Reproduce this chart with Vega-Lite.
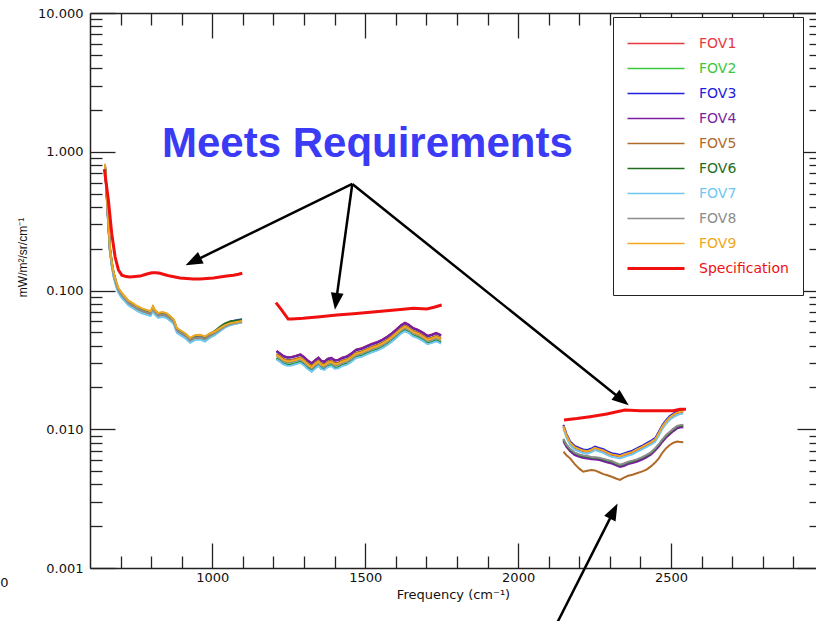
{
  "$schema": "https://vega.github.io/schema/vega-lite/v6.json",
  "width": 726,
  "height": 555,
  "autosize": {"type": "none"},
  "padding": {"left": 90, "top": 13, "right": 0, "bottom": 53},
  "background": "white",
  "config": {
    "view": {"stroke": null},
    "axis": {"grid": false, "domainColor": "#222222", "tickColor": "#222222", "labelColor": "#111111", "titleColor": "#111111", "labelFont": "DejaVu Sans", "titleFont": "DejaVu Sans", "domainWidth": 1.5, "tickWidth": 1.3, "labelFontSize": 13}
  },
  "datasets": {
    "fov": [
      {"band":1,"f":649,"FOV1":0.79,"FOV2":0.78,"FOV3":0.80,"FOV4":0.79,"FOV5":0.77,"FOV6":0.80,"FOV7":0.76,"FOV8":0.78,"FOV9":0.82},
      {"band":1,"f":654,"FOV1":0.52,"FOV2":0.51,"FOV3":0.53,"FOV4":0.52,"FOV5":0.51,"FOV6":0.53,"FOV7":0.49,"FOV8":0.51,"FOV9":0.54},
      {"band":1,"f":659,"FOV1":0.33,"FOV2":0.325,"FOV3":0.335,"FOV4":0.33,"FOV5":0.32,"FOV6":0.34,"FOV7":0.31,"FOV8":0.325,"FOV9":0.34},
      {"band":1,"f":665,"FOV1":0.200,"FOV2":0.197,"FOV3":0.203,"FOV4":0.199,"FOV5":0.195,"FOV6":0.205,"FOV7":0.190,"FOV8":0.198,"FOV9":0.206},
      {"band":1,"f":671,"FOV1":0.158,"FOV2":0.156,"FOV3":0.160,"FOV4":0.157,"FOV5":0.154,"FOV6":0.162,"FOV7":0.150,"FOV8":0.156,"FOV9":0.163},
      {"band":1,"f":677,"FOV1":0.133,"FOV2":0.130,"FOV3":0.134,"FOV4":0.131,"FOV5":0.129,"FOV6":0.135,"FOV7":0.125,"FOV8":0.131,"FOV9":0.136},
      {"band":1,"f":685,"FOV1":0.112,"FOV2":0.111,"FOV3":0.115,"FOV4":0.113,"FOV5":0.110,"FOV6":0.116,"FOV7":0.107,"FOV8":0.112,"FOV9":0.117},
      {"band":1,"f":693,"FOV1":0.101,"FOV2":0.100,"FOV3":0.102,"FOV4":0.101,"FOV5":0.099,"FOV6":0.103,"FOV7":0.096,"FOV8":0.100,"FOV9":0.104},
      {"band":1,"f":703,"FOV1":0.0945,"FOV2":0.093,"FOV3":0.095,"FOV4":0.094,"FOV5":0.092,"FOV6":0.096,"FOV7":0.089,"FOV8":0.093,"FOV9":0.097},
      {"band":1,"f":714,"FOV1":0.0875,"FOV2":0.087,"FOV3":0.089,"FOV4":0.088,"FOV5":0.086,"FOV6":0.090,"FOV7":0.0835,"FOV8":0.087,"FOV9":0.0905},
      {"band":1,"f":726,"FOV1":0.0825,"FOV2":0.081,"FOV3":0.083,"FOV4":0.082,"FOV5":0.080,"FOV6":0.0835,"FOV7":0.078,"FOV8":0.081,"FOV9":0.0845},
      {"band":1,"f":740,"FOV1":0.0780,"FOV2":0.0778,"FOV3":0.0795,"FOV4":0.0785,"FOV5":0.0770,"FOV6":0.0800,"FOV7":0.0745,"FOV8":0.0778,"FOV9":0.0810},
      {"band":1,"f":755,"FOV1":0.0750,"FOV2":0.0740,"FOV3":0.0756,"FOV4":0.0748,"FOV5":0.0733,"FOV6":0.0763,"FOV7":0.0710,"FOV8":0.0741,"FOV9":0.0770},
      {"band":1,"f":770,"FOV1":0.0720,"FOV2":0.0715,"FOV3":0.0730,"FOV4":0.0722,"FOV5":0.0708,"FOV6":0.0736,"FOV7":0.0686,"FOV8":0.0715,"FOV9":0.0744},
      {"band":1,"f":785,"FOV1":0.0705,"FOV2":0.0696,"FOV3":0.0710,"FOV4":0.0703,"FOV5":0.0689,"FOV6":0.0717,"FOV7":0.0668,"FOV8":0.0696,"FOV9":0.0724},
      {"band":1,"f":798,"FOV1":0.0690,"FOV2":0.0681,"FOV3":0.0695,"FOV4":0.0688,"FOV5":0.0674,"FOV6":0.0702,"FOV7":0.0654,"FOV8":0.0681,"FOV9":0.0709},
      {"band":1,"f":806,"FOV1":0.0745,"FOV2":0.0740,"FOV3":0.0756,"FOV4":0.0748,"FOV5":0.0733,"FOV6":0.0763,"FOV7":0.0711,"FOV8":0.0741,"FOV9":0.0770},
      {"band":1,"f":812,"FOV1":0.0705,"FOV2":0.0698,"FOV3":0.0712,"FOV4":0.0705,"FOV5":0.0691,"FOV6":0.0719,"FOV7":0.0670,"FOV8":0.0698,"FOV9":0.0726},
      {"band":1,"f":823,"FOV1":0.0670,"FOV2":0.0661,"FOV3":0.0675,"FOV4":0.0668,"FOV5":0.0655,"FOV6":0.0681,"FOV7":0.0635,"FOV8":0.0661,"FOV9":0.0688},
      {"band":1,"f":837,"FOV1":0.0682,"FOV2":0.0673,"FOV3":0.0687,"FOV4":0.0680,"FOV5":0.0666,"FOV6":0.0694,"FOV7":0.0646,"FOV8":0.0673,"FOV9":0.0700},
      {"band":1,"f":851,"FOV1":0.0664,"FOV2":0.0657,"FOV3":0.0671,"FOV4":0.0664,"FOV5":0.0651,"FOV6":0.0677,"FOV7":0.0631,"FOV8":0.0657,"FOV9":0.0684},
      {"band":1,"f":864,"FOV1":0.0632,"FOV2":0.0624,"FOV3":0.0636,"FOV4":0.0630,"FOV5":0.0617,"FOV6":0.0643,"FOV7":0.0599,"FOV8":0.0624,"FOV9":0.0649},
      {"band":1,"f":874,"FOV1":0.0598,"FOV2":0.0594,"FOV3":0.0606,"FOV4":0.0600,"FOV5":0.0588,"FOV6":0.0612,"FOV7":0.0570,"FOV8":0.0594,"FOV9":0.0618},
      {"band":1,"f":884,"FOV1":0.0524,"FOV2":0.0517,"FOV3":0.0527,"FOV4":0.0522,"FOV5":0.0512,"FOV6":0.0532,"FOV7":0.0496,"FOV8":0.0517,"FOV9":0.0538},
      {"band":1,"f":898,"FOV1":0.0498,"FOV2":0.0493,"FOV3":0.0503,"FOV4":0.0498,"FOV5":0.0488,"FOV6":0.0508,"FOV7":0.0473,"FOV8":0.0493,"FOV9":0.0513},
      {"band":1,"f":912,"FOV1":0.0477,"FOV2":0.0471,"FOV3":0.0481,"FOV4":0.0476,"FOV5":0.0466,"FOV6":0.0486,"FOV7":0.0452,"FOV8":0.0471,"FOV9":0.0490},
      {"band":1,"f":927,"FOV1":0.0443,"FOV2":0.0438,"FOV3":0.0446,"FOV4":0.0442,"FOV5":0.0433,"FOV6":0.0451,"FOV7":0.0420,"FOV8":0.0438,"FOV9":0.0455},
      {"band":1,"f":943,"FOV1":0.0462,"FOV2":0.0457,"FOV3":0.0467,"FOV4":0.0462,"FOV5":0.0453,"FOV6":0.0471,"FOV7":0.0439,"FOV8":0.0457,"FOV9":0.0476},
      {"band":1,"f":960,"FOV1":0.0467,"FOV2":0.0461,"FOV3":0.0471,"FOV4":0.0466,"FOV5":0.0457,"FOV6":0.0475,"FOV7":0.0443,"FOV8":0.0461,"FOV9":0.0480},
      {"band":1,"f":976,"FOV1":0.0452,"FOV2":0.0447,"FOV3":0.0457,"FOV4":0.0452,"FOV5":0.0443,"FOV6":0.0461,"FOV7":0.0429,"FOV8":0.0447,"FOV9":0.0466},
      {"band":1,"f":992,"FOV1":0.0479,"FOV2":0.0473,"FOV3":0.0483,"FOV4":0.0478,"FOV5":0.0468,"FOV6":0.0490,"FOV7":0.0456,"FOV8":0.0473,"FOV9":0.0490},
      {"band":1,"f":1008,"FOV1":0.0497,"FOV2":0.0491,"FOV3":0.0503,"FOV4":0.0496,"FOV5":0.0486,"FOV6":0.0510,"FOV7":0.0476,"FOV8":0.0491,"FOV9":0.0506},
      {"band":1,"f":1024,"FOV1":0.0526,"FOV2":0.0520,"FOV3":0.0535,"FOV4":0.0525,"FOV5":0.0515,"FOV6":0.0545,"FOV7":0.0506,"FOV8":0.0520,"FOV9":0.0533},
      {"band":1,"f":1040,"FOV1":0.0556,"FOV2":0.0549,"FOV3":0.0566,"FOV4":0.0555,"FOV5":0.0544,"FOV6":0.0577,"FOV7":0.0537,"FOV8":0.0550,"FOV9":0.0561},
      {"band":1,"f":1058,"FOV1":0.0580,"FOV2":0.0572,"FOV3":0.0595,"FOV4":0.0578,"FOV5":0.0567,"FOV6":0.0598,"FOV7":0.0562,"FOV8":0.0573,"FOV9":0.0582},
      {"band":1,"f":1075,"FOV1":0.0590,"FOV2":0.0582,"FOV3":0.0608,"FOV4":0.0588,"FOV5":0.0576,"FOV6":0.0605,"FOV7":0.0575,"FOV8":0.0583,"FOV9":0.0590},
      {"band":1,"f":1097,"FOV1":0.0604,"FOV2":0.0596,"FOV3":0.0622,"FOV4":0.0602,"FOV5":0.0590,"FOV6":0.0615,"FOV7":0.0590,"FOV8":0.0597,"FOV9":0.0603},

      {"band":2,"f":1210,"FOV1":0.0367,"FOV2":0.0326,"FOV3":0.0364,"FOV4":0.0366,"FOV5":0.0350,"FOV6":0.0322,"FOV7":0.0319,"FOV8":0.0336,"FOV9":0.0343},
      {"band":2,"f":1221,"FOV1":0.0353,"FOV2":0.0314,"FOV3":0.0350,"FOV4":0.0352,"FOV5":0.0337,"FOV6":0.0310,"FOV7":0.0307,"FOV8":0.0323,"FOV9":0.0330},
      {"band":2,"f":1232,"FOV1":0.0338,"FOV2":0.0300,"FOV3":0.0335,"FOV4":0.0337,"FOV5":0.0322,"FOV6":0.0297,"FOV7":0.0294,"FOV8":0.0310,"FOV9":0.0316},
      {"band":2,"f":1245,"FOV1":0.0331,"FOV2":0.0294,"FOV3":0.0328,"FOV4":0.0330,"FOV5":0.0315,"FOV6":0.0290,"FOV7":0.0287,"FOV8":0.0303,"FOV9":0.0309},
      {"band":2,"f":1258,"FOV1":0.0332,"FOV2":0.0295,"FOV3":0.0329,"FOV4":0.0331,"FOV5":0.0316,"FOV6":0.0291,"FOV7":0.0288,"FOV8":0.0304,"FOV9":0.0310},
      {"band":2,"f":1272,"FOV1":0.0338,"FOV2":0.0300,"FOV3":0.0335,"FOV4":0.0337,"FOV5":0.0322,"FOV6":0.0297,"FOV7":0.0294,"FOV8":0.0310,"FOV9":0.0316},
      {"band":2,"f":1288,"FOV1":0.0347,"FOV2":0.0308,"FOV3":0.0343,"FOV4":0.0346,"FOV5":0.0330,"FOV6":0.0305,"FOV7":0.0301,"FOV8":0.0318,"FOV9":0.0324},
      {"band":2,"f":1300,"FOV1":0.0332,"FOV2":0.0295,"FOV3":0.0329,"FOV4":0.0331,"FOV5":0.0316,"FOV6":0.0291,"FOV7":0.0288,"FOV8":0.0304,"FOV9":0.0310},
      {"band":2,"f":1311,"FOV1":0.0315,"FOV2":0.0279,"FOV3":0.0312,"FOV4":0.0314,"FOV5":0.0300,"FOV6":0.0276,"FOV7":0.0273,"FOV8":0.0288,"FOV9":0.0294},
      {"band":2,"f":1325,"FOV1":0.0300,"FOV2":0.0266,"FOV3":0.0297,"FOV4":0.0299,"FOV5":0.0286,"FOV6":0.0263,"FOV7":0.0260,"FOV8":0.0274,"FOV9":0.0280},
      {"band":2,"f":1337,"FOV1":0.0317,"FOV2":0.0281,"FOV3":0.0314,"FOV4":0.0316,"FOV5":0.0302,"FOV6":0.0278,"FOV7":0.0275,"FOV8":0.0290,"FOV9":0.0296},
      {"band":2,"f":1347,"FOV1":0.0328,"FOV2":0.0292,"FOV3":0.0325,"FOV4":0.0328,"FOV5":0.0313,"FOV6":0.0289,"FOV7":0.0286,"FOV8":0.0301,"FOV9":0.0307},
      {"band":2,"f":1356,"FOV1":0.0312,"FOV2":0.0277,"FOV3":0.0310,"FOV4":0.0312,"FOV5":0.0298,"FOV6":0.0274,"FOV7":0.0272,"FOV8":0.0286,"FOV9":0.0292},
      {"band":2,"f":1366,"FOV1":0.0308,"FOV2":0.0274,"FOV3":0.0305,"FOV4":0.0307,"FOV5":0.0294,"FOV6":0.0271,"FOV7":0.0268,"FOV8":0.0282,"FOV9":0.0288},
      {"band":2,"f":1378,"FOV1":0.0323,"FOV2":0.0287,"FOV3":0.0320,"FOV4":0.0322,"FOV5":0.0308,"FOV6":0.0284,"FOV7":0.0281,"FOV8":0.0296,"FOV9":0.0302},
      {"band":2,"f":1389,"FOV1":0.0327,"FOV2":0.0291,"FOV3":0.0324,"FOV4":0.0327,"FOV5":0.0312,"FOV6":0.0288,"FOV7":0.0285,"FOV8":0.0300,"FOV9":0.0306},
      {"band":2,"f":1401,"FOV1":0.0315,"FOV2":0.0279,"FOV3":0.0312,"FOV4":0.0314,"FOV5":0.0300,"FOV6":0.0276,"FOV7":0.0273,"FOV8":0.0288,"FOV9":0.0294},
      {"band":2,"f":1412,"FOV1":0.0317,"FOV2":0.0281,"FOV3":0.0314,"FOV4":0.0316,"FOV5":0.0302,"FOV6":0.0278,"FOV7":0.0275,"FOV8":0.0290,"FOV9":0.0296},
      {"band":2,"f":1425,"FOV1":0.0328,"FOV2":0.0292,"FOV3":0.0325,"FOV4":0.0328,"FOV5":0.0313,"FOV6":0.0289,"FOV7":0.0286,"FOV8":0.0301,"FOV9":0.0307},
      {"band":2,"f":1440,"FOV1":0.0336,"FOV2":0.0298,"FOV3":0.0333,"FOV4":0.0335,"FOV5":0.0320,"FOV6":0.0295,"FOV7":0.0292,"FOV8":0.0308,"FOV9":0.0314},
      {"band":2,"f":1455,"FOV1":0.0353,"FOV2":0.0314,"FOV3":0.0350,"FOV4":0.0352,"FOV5":0.0337,"FOV6":0.0310,"FOV7":0.0307,"FOV8":0.0323,"FOV9":0.0330},
      {"band":2,"f":1470,"FOV1":0.0375,"FOV2":0.0333,"FOV3":0.0371,"FOV4":0.0374,"FOV5":0.0357,"FOV6":0.0329,"FOV7":0.0326,"FOV8":0.0343,"FOV9":0.0350},
      {"band":2,"f":1488,"FOV1":0.0383,"FOV2":0.0340,"FOV3":0.0379,"FOV4":0.0382,"FOV5":0.0365,"FOV6":0.0337,"FOV7":0.0333,"FOV8":0.0351,"FOV9":0.0358},
      {"band":2,"f":1505,"FOV1":0.0398,"FOV2":0.0353,"FOV3":0.0394,"FOV4":0.0397,"FOV5":0.0379,"FOV6":0.0350,"FOV7":0.0346,"FOV8":0.0365,"FOV9":0.0372},
      {"band":2,"f":1522,"FOV1":0.0413,"FOV2":0.0367,"FOV3":0.0409,"FOV4":0.0412,"FOV5":0.0394,"FOV6":0.0363,"FOV7":0.0359,"FOV8":0.0378,"FOV9":0.0386},
      {"band":2,"f":1540,"FOV1":0.0426,"FOV2":0.0378,"FOV3":0.0422,"FOV4":0.0425,"FOV5":0.0406,"FOV6":0.0374,"FOV7":0.0370,"FOV8":0.0390,"FOV9":0.0398},
      {"band":2,"f":1556,"FOV1":0.0443,"FOV2":0.0393,"FOV3":0.0439,"FOV4":0.0442,"FOV5":0.0422,"FOV6":0.0389,"FOV7":0.0385,"FOV8":0.0406,"FOV9":0.0414},
      {"band":2,"f":1572,"FOV1":0.0465,"FOV2":0.0413,"FOV3":0.0461,"FOV4":0.0464,"FOV5":0.0444,"FOV6":0.0409,"FOV7":0.0405,"FOV8":0.0426,"FOV9":0.0435},
      {"band":2,"f":1588,"FOV1":0.0494,"FOV2":0.0439,"FOV3":0.0490,"FOV4":0.0493,"FOV5":0.0471,"FOV6":0.0434,"FOV7":0.0430,"FOV8":0.0453,"FOV9":0.0462},
      {"band":2,"f":1603,"FOV1":0.0528,"FOV2":0.0468,"FOV3":0.0523,"FOV4":0.0526,"FOV5":0.0503,"FOV6":0.0463,"FOV7":0.0458,"FOV8":0.0483,"FOV9":0.0493},
      {"band":2,"f":1617,"FOV1":0.0563,"FOV2":0.0500,"FOV3":0.0558,"FOV4":0.0561,"FOV5":0.0537,"FOV6":0.0494,"FOV7":0.0489,"FOV8":0.0515,"FOV9":0.0526},
      {"band":2,"f":1630,"FOV1":0.0586,"FOV2":0.0521,"FOV3":0.0581,"FOV4":0.0585,"FOV5":0.0559,"FOV6":0.0515,"FOV7":0.0510,"FOV8":0.0537,"FOV9":0.0548},
      {"band":2,"f":1642,"FOV1":0.0569,"FOV2":0.0505,"FOV3":0.0564,"FOV4":0.0568,"FOV5":0.0543,"FOV6":0.0500,"FOV7":0.0495,"FOV8":0.0521,"FOV9":0.0532},
      {"band":2,"f":1656,"FOV1":0.0538,"FOV2":0.0478,"FOV3":0.0533,"FOV4":0.0537,"FOV5":0.0513,"FOV6":0.0473,"FOV7":0.0468,"FOV8":0.0493,"FOV9":0.0503},
      {"band":2,"f":1672,"FOV1":0.0522,"FOV2":0.0464,"FOV3":0.0517,"FOV4":0.0521,"FOV5":0.0498,"FOV6":0.0459,"FOV7":0.0454,"FOV8":0.0478,"FOV9":0.0488},
      {"band":2,"f":1688,"FOV1":0.0499,"FOV2":0.0443,"FOV3":0.0494,"FOV4":0.0497,"FOV5":0.0475,"FOV6":0.0438,"FOV7":0.0433,"FOV8":0.0457,"FOV9":0.0466},
      {"band":2,"f":1704,"FOV1":0.0472,"FOV2":0.0419,"FOV3":0.0467,"FOV4":0.0471,"FOV5":0.0450,"FOV6":0.0415,"FOV7":0.0410,"FOV8":0.0432,"FOV9":0.0441},
      {"band":2,"f":1718,"FOV1":0.0482,"FOV2":0.0428,"FOV3":0.0477,"FOV4":0.0480,"FOV5":0.0459,"FOV6":0.0423,"FOV7":0.0419,"FOV8":0.0441,"FOV9":0.0450},
      {"band":2,"f":1732,"FOV1":0.0495,"FOV2":0.0440,"FOV3":0.0491,"FOV4":0.0494,"FOV5":0.0472,"FOV6":0.0435,"FOV7":0.0431,"FOV8":0.0454,"FOV9":0.0463},
      {"band":2,"f":1748,"FOV1":0.0477,"FOV2":0.0424,"FOV3":0.0473,"FOV4":0.0476,"FOV5":0.0455,"FOV6":0.0419,"FOV7":0.0415,"FOV8":0.0437,"FOV9":0.0446},

      {"band":3,"f":2148,"FOV1":0.01043,"FOV2":0.00837,"FOV3":0.01074,"FOV4":0.00820,"FOV5":0.00689,"FOV6":0.00845,"FOV7":0.01012,"FOV8":0.00854,"FOV9":0.01053},
      {"band":3,"f":2158,"FOV1":0.00900,"FOV2":0.00760,"FOV3":0.00927,"FOV4":0.00745,"FOV5":0.00650,"FOV6":0.00768,"FOV7":0.00873,"FOV8":0.00775,"FOV9":0.00909},
      {"band":3,"f":2170,"FOV1":0.00792,"FOV2":0.00708,"FOV3":0.00816,"FOV4":0.00694,"FOV5":0.00617,"FOV6":0.00715,"FOV7":0.00768,"FOV8":0.00722,"FOV9":0.00800},
      {"band":3,"f":2185,"FOV1":0.00735,"FOV2":0.00665,"FOV3":0.00757,"FOV4":0.00652,"FOV5":0.00560,"FOV6":0.00672,"FOV7":0.00713,"FOV8":0.00678,"FOV9":0.00742},
      {"band":3,"f":2200,"FOV1":0.00712,"FOV2":0.00645,"FOV3":0.00733,"FOV4":0.00632,"FOV5":0.00520,"FOV6":0.00651,"FOV7":0.00691,"FOV8":0.00658,"FOV9":0.00719},
      {"band":3,"f":2213,"FOV1":0.00695,"FOV2":0.00634,"FOV3":0.00716,"FOV4":0.00621,"FOV5":0.00494,"FOV6":0.00640,"FOV7":0.00674,"FOV8":0.00647,"FOV9":0.00702},
      {"band":3,"f":2226,"FOV1":0.00688,"FOV2":0.00628,"FOV3":0.00709,"FOV4":0.00615,"FOV5":0.00502,"FOV6":0.00634,"FOV7":0.00667,"FOV8":0.00641,"FOV9":0.00695},
      {"band":3,"f":2240,"FOV1":0.00705,"FOV2":0.00620,"FOV3":0.00726,"FOV4":0.00608,"FOV5":0.00508,"FOV6":0.00626,"FOV7":0.00684,"FOV8":0.00632,"FOV9":0.00712},
      {"band":3,"f":2251,"FOV1":0.00729,"FOV2":0.00617,"FOV3":0.00751,"FOV4":0.00605,"FOV5":0.00505,"FOV6":0.00623,"FOV7":0.00707,"FOV8":0.00629,"FOV9":0.00736},
      {"band":3,"f":2265,"FOV1":0.00712,"FOV2":0.00612,"FOV3":0.00733,"FOV4":0.00600,"FOV5":0.00490,"FOV6":0.00618,"FOV7":0.00691,"FOV8":0.00624,"FOV9":0.00719},
      {"band":3,"f":2279,"FOV1":0.00697,"FOV2":0.00600,"FOV3":0.00718,"FOV4":0.00588,"FOV5":0.00475,"FOV6":0.00606,"FOV7":0.00676,"FOV8":0.00612,"FOV9":0.00704},
      {"band":3,"f":2292,"FOV1":0.00672,"FOV2":0.00588,"FOV3":0.00692,"FOV4":0.00576,"FOV5":0.00466,"FOV6":0.00594,"FOV7":0.00652,"FOV8":0.00600,"FOV9":0.00679},
      {"band":3,"f":2306,"FOV1":0.00652,"FOV2":0.00578,"FOV3":0.00672,"FOV4":0.00566,"FOV5":0.00455,"FOV6":0.00584,"FOV7":0.00632,"FOV8":0.00590,"FOV9":0.00659},
      {"band":3,"f":2320,"FOV1":0.00645,"FOV2":0.00560,"FOV3":0.00664,"FOV4":0.00549,"FOV5":0.00442,"FOV6":0.00566,"FOV7":0.00626,"FOV8":0.00571,"FOV9":0.00651},
      {"band":3,"f":2333,"FOV1":0.00634,"FOV2":0.00545,"FOV3":0.00653,"FOV4":0.00534,"FOV5":0.00431,"FOV6":0.00550,"FOV7":0.00615,"FOV8":0.00556,"FOV9":0.00640},
      {"band":3,"f":2346,"FOV1":0.00650,"FOV2":0.00555,"FOV3":0.00670,"FOV4":0.00544,"FOV5":0.00448,"FOV6":0.00561,"FOV7":0.00631,"FOV8":0.00566,"FOV9":0.00657},
      {"band":3,"f":2360,"FOV1":0.00666,"FOV2":0.00572,"FOV3":0.00686,"FOV4":0.00561,"FOV5":0.00462,"FOV6":0.00578,"FOV7":0.00646,"FOV8":0.00583,"FOV9":0.00673},
      {"band":3,"f":2374,"FOV1":0.00680,"FOV2":0.00582,"FOV3":0.00700,"FOV4":0.00570,"FOV5":0.00470,"FOV6":0.00588,"FOV7":0.00660,"FOV8":0.00594,"FOV9":0.00687},
      {"band":3,"f":2388,"FOV1":0.00708,"FOV2":0.00595,"FOV3":0.00729,"FOV4":0.00583,"FOV5":0.00482,"FOV6":0.00601,"FOV7":0.00687,"FOV8":0.00607,"FOV9":0.00715},
      {"band":3,"f":2404,"FOV1":0.00735,"FOV2":0.00615,"FOV3":0.00757,"FOV4":0.00603,"FOV5":0.00495,"FOV6":0.00621,"FOV7":0.00713,"FOV8":0.00627,"FOV9":0.00742},
      {"band":3,"f":2420,"FOV1":0.00770,"FOV2":0.00640,"FOV3":0.00793,"FOV4":0.00627,"FOV5":0.00512,"FOV6":0.00646,"FOV7":0.00747,"FOV8":0.00653,"FOV9":0.00778},
      {"band":3,"f":2434,"FOV1":0.00800,"FOV2":0.00668,"FOV3":0.00824,"FOV4":0.00655,"FOV5":0.00540,"FOV6":0.00675,"FOV7":0.00776,"FOV8":0.00681,"FOV9":0.00808},
      {"band":3,"f":2448,"FOV1":0.00837,"FOV2":0.00715,"FOV3":0.00862,"FOV4":0.00701,"FOV5":0.00575,"FOV6":0.00722,"FOV7":0.00812,"FOV8":0.00729,"FOV9":0.00845},
      {"band":3,"f":2460,"FOV1":0.00930,"FOV2":0.00765,"FOV3":0.00958,"FOV4":0.00750,"FOV5":0.00617,"FOV6":0.00773,"FOV7":0.00902,"FOV8":0.00780,"FOV9":0.00939},
      {"band":3,"f":2472,"FOV1":0.01040,"FOV2":0.00830,"FOV3":0.01071,"FOV4":0.00813,"FOV5":0.00680,"FOV6":0.00838,"FOV7":0.01009,"FOV8":0.00847,"FOV9":0.01050},
      {"band":3,"f":2484,"FOV1":0.01130,"FOV2":0.00890,"FOV3":0.01164,"FOV4":0.00872,"FOV5":0.00730,"FOV6":0.00899,"FOV7":0.01096,"FOV8":0.00908,"FOV9":0.01141},
      {"band":3,"f":2496,"FOV1":0.01210,"FOV2":0.00940,"FOV3":0.01246,"FOV4":0.00921,"FOV5":0.00770,"FOV6":0.00949,"FOV7":0.01174,"FOV8":0.00959,"FOV9":0.01222},
      {"band":3,"f":2508,"FOV1":0.01260,"FOV2":0.00990,"FOV3":0.01298,"FOV4":0.00970,"FOV5":0.00800,"FOV6":0.01000,"FOV7":0.01222,"FOV8":0.01010,"FOV9":0.01273},
      {"band":3,"f":2520,"FOV1":0.01305,"FOV2":0.01035,"FOV3":0.01344,"FOV4":0.01014,"FOV5":0.00815,"FOV6":0.01045,"FOV7":0.01266,"FOV8":0.01056,"FOV9":0.01318},
      {"band":3,"f":2530,"FOV1":0.01325,"FOV2":0.01050,"FOV3":0.01365,"FOV4":0.01029,"FOV5":0.00810,"FOV6":0.01061,"FOV7":0.01285,"FOV8":0.01071,"FOV9":0.01338},
      {"band":3,"f":2540,"FOV1":0.01340,"FOV2":0.01055,"FOV3":0.01380,"FOV4":0.01034,"FOV5":0.00805,"FOV6":0.01066,"FOV7":0.01300,"FOV8":0.01076,"FOV9":0.01353}
    ],
    "spec": [
      {"band":1,"f":647,"v":0.75},{"band":1,"f":660,"v":0.449},{"band":1,"f":671,"v":0.258},{"band":1,"f":682,"v":0.175},{"band":1,"f":693,"v":0.1406},{"band":1,"f":704,"v":0.129},{"band":1,"f":718,"v":0.126},{"band":1,"f":731,"v":0.125},{"band":1,"f":748,"v":0.126},{"band":1,"f":764,"v":0.127},{"band":1,"f":783,"v":0.131},{"band":1,"f":802,"v":0.134},{"band":1,"f":816,"v":0.134},{"band":1,"f":829,"v":0.133},{"band":1,"f":845,"v":0.130},{"band":1,"f":862,"v":0.127},{"band":1,"f":878,"v":0.125},{"band":1,"f":894,"v":0.123},{"band":1,"f":916,"v":0.122},{"band":1,"f":938,"v":0.121},{"band":1,"f":960,"v":0.121},{"band":1,"f":982,"v":0.122},{"band":1,"f":1004,"v":0.123},{"band":1,"f":1025,"v":0.125},{"band":1,"f":1047,"v":0.127},{"band":1,"f":1069,"v":0.129},{"band":1,"f":1085,"v":0.131},{"band":1,"f":1098,"v":0.133},
      {"band":2,"f":1208,"v":0.0817},{"band":2,"f":1227,"v":0.0723},{"band":2,"f":1248,"v":0.0623},{"band":2,"f":1260,"v":0.0622},{"band":2,"f":1297,"v":0.0630},{"band":2,"f":1352,"v":0.0648},{"band":2,"f":1407,"v":0.0666},{"band":2,"f":1462,"v":0.0681},{"band":2,"f":1516,"v":0.0697},{"band":2,"f":1570,"v":0.0714},{"band":2,"f":1624,"v":0.0732},{"band":2,"f":1657,"v":0.0744},{"band":2,"f":1701,"v":0.0737},{"band":2,"f":1725,"v":0.0758},{"band":2,"f":1750,"v":0.0786},
      {"band":3,"f":2150,"v":0.01166},{"band":3,"f":2192,"v":0.01195},{"band":3,"f":2235,"v":0.01232},{"band":3,"f":2290,"v":0.01288},{"band":3,"f":2349,"v":0.01376},{"band":3,"f":2399,"v":0.01361},{"band":3,"f":2453,"v":0.01361},{"band":3,"f":2507,"v":0.01361},{"band":3,"f":2529,"v":0.01392},{"band":3,"f":2549,"v":0.01392}
    ],
    "anchor": [{"f": 1000, "v": 0.01}]
  },
  "layer": [
    {
      "data": {"name": "anchor"},
      "mark": {"type": "point", "opacity": 0},
      "encoding": {
        "x": {"field": "f", "type": "quantitative", "scale": {"domain": [600, 2974], "nice": false, "zero": false},
          "axis": {"orient": "bottom", "values": [1000, 1500, 2000, 2500], "format": "d", "ticks": false, "domain": true, "labelPadding": 3, "labelFlush": false, "labelOverlap": false, "labelBound": false, "title": "Frequency (cm⁻¹)", "titleFontWeight": "normal", "titleFontSize": 13, "titlePadding": 4}},
        "y": {"field": "v", "type": "quantitative", "scale": {"type": "log", "domain": [0.001, 10], "nice": false},
          "axis": {"orient": "left", "values": [0.001, 0.01, 0.1, 1, 10], "format": ".3f", "ticks": false, "domain": true, "labelPadding": 7, "labelFlush": false, "labelOverlap": false, "title": "mW/m²/sr/cm⁻¹", "titleFont": "Liberation Sans", "titleFontSize": 12, "titleFontWeight": "normal", "titleX": -68, "titleY": 244, "titleAngle": -90, "titleAlign": "center", "titleBaseline": "middle"}}
      }
    },
    {
      "data": {"name": "anchor"},
      "mark": {"type": "point", "opacity": 0},
      "encoding": {
        "x": {"field": "f", "type": "quantitative", "scale": {"domain": [600, 2974], "nice": false, "zero": false},
          "axis": {"orient": "bottom", "values": [1000, 1500, 2000, 2500], "tickSize": -25, "labels": false, "domain": false, "title": null}},
        "y": {"field": "v", "type": "quantitative", "scale": {"type": "log", "domain": [0.001, 10], "nice": false},
          "axis": {"orient": "left", "values": [0.001, 0.01, 0.1, 1, 10], "tickSize": -25, "labels": false, "domain": false, "title": null}}
      }
    },
    {
      "data": {"name": "anchor"},
      "mark": {"type": "point", "opacity": 0},
      "encoding": {
        "x": {"field": "f", "type": "quantitative", "scale": {"domain": [600, 2974], "nice": false, "zero": false},
          "axis": {"orient": "bottom", "values": [700, 800, 900, 1100, 1200, 1300, 1400, 1600, 1700, 1800, 1900, 2100, 2200, 2300, 2400, 2600, 2700, 2800, 2900], "tickSize": -12, "labels": false, "domain": false, "title": null}},
        "y": {"field": "v", "type": "quantitative", "scale": {"type": "log", "domain": [0.001, 10], "nice": false},
          "axis": {"orient": "left", "values": [0.002, 0.003, 0.004, 0.005, 0.006, 0.007, 0.008, 0.009, 0.02, 0.03, 0.04, 0.05, 0.06, 0.07, 0.08, 0.09, 0.2, 0.3, 0.4, 0.5, 0.6, 0.7, 0.8, 0.9, 2, 3, 4, 5, 6, 7, 8, 9], "tickSize": -12, "labels": false, "domain": false, "title": null}}
      }
    },
    {
      "data": {"name": "anchor"},
      "mark": {"type": "point", "opacity": 0},
      "encoding": {
        "x": {"field": "f", "type": "quantitative", "scale": {"domain": [600, 2974], "nice": false, "zero": false},
          "axis": {"orient": "top", "values": [1000, 1500, 2000, 2500], "tickSize": -25, "labels": false, "domain": true, "title": null}},
        "y": {"field": "v", "type": "quantitative", "scale": {"type": "log", "domain": [0.001, 10], "nice": false},
          "axis": {"orient": "right", "values": [0.001, 0.01, 0.1, 1, 10], "tickSize": -19, "labels": false, "domain": false, "title": null}}
      }
    },
    {
      "data": {"name": "anchor"},
      "mark": {"type": "point", "opacity": 0},
      "encoding": {
        "x": {"field": "f", "type": "quantitative", "scale": {"domain": [600, 2974], "nice": false, "zero": false},
          "axis": {"orient": "top", "values": [700, 800, 900, 1100, 1200, 1300, 1400, 1600, 1700, 1800, 1900, 2100, 2200, 2300, 2400, 2600, 2700, 2800, 2900], "tickSize": -12, "labels": false, "domain": false, "title": null}},
        "y": {"field": "v", "type": "quantitative", "scale": {"type": "log", "domain": [0.001, 10], "nice": false},
          "axis": {"orient": "right", "values": [0.002, 0.003, 0.004, 0.005, 0.006, 0.007, 0.008, 0.009, 0.02, 0.03, 0.04, 0.05, 0.06, 0.07, 0.08, 0.09, 0.2, 0.3, 0.4, 0.5, 0.6, 0.7, 0.8, 0.9, 2, 3, 4, 5, 6, 7, 8, 9], "tickSize": -7, "labels": false, "domain": false, "title": null}}
      }
    },
    {
      "data": {"name": "fov"},
      "transform": [{"fold": ["FOV1", "FOV2", "FOV3", "FOV4", "FOV5", "FOV6", "FOV7", "FOV8", "FOV9"], "as": ["series", "value"]}],
      "mark": {"type": "line", "strokeWidth": 2},
      "encoding": {
        "x": {"field": "f", "type": "quantitative", "axis": null},
        "y": {"field": "value", "type": "quantitative", "axis": null},
        "detail": {"field": "band", "type": "nominal"},
        "color": {"field": "series", "type": "nominal",
          "scale": {"domain": ["FOV1", "FOV2", "FOV3", "FOV4", "FOV5", "FOV6", "FOV7", "FOV8", "FOV9", "Specification"],
                    "range": ["#e8383d", "#3cc83c", "#2020e0", "#7a1fa0", "#b06a28", "#1e6e1e", "#6ec8f0", "#8c8c8c", "#f0a820", "#f01010"]},
          "legend": {"title": null, "orient": "none", "legendX": 523, "legendY": 4, "direction": "vertical", "symbolType": "stroke", "symbolSize": 3249, "symbolStrokeWidth": 1.5, "symbolOffset": 22, "clipHeight": 25, "rowPadding": 0, "padding": 14, "labelOffset": 36, "labelFont": "DejaVu Sans", "labelFontSize": 14, "strokeColor": "#222222", "fillColor": "white",
            "encode": {"labels": {"update": {"fill": {"scale": "color", "field": "value"}}}, "symbols": {"update": {"strokeWidth": {"signal": "datum.value === 'Specification' ? 3 : 1.5"}}}}}
        }
      }
    },
    {
      "data": {"name": "spec"},
      "mark": {"type": "line", "strokeWidth": 3},
      "encoding": {
        "x": {"field": "f", "type": "quantitative", "axis": null},
        "y": {"field": "v", "type": "quantitative", "axis": null},
        "detail": {"field": "band", "type": "nominal"},
        "color": {"datum": "Specification", "type": "nominal"}
      }
    },
    {
      "data": {"values": [{"f": 1507, "v": 0.917, "label": "Meets Requirements"}]},
      "mark": {"type": "text", "font": "Liberation Sans", "fontWeight": "bold", "fontSize": 42, "color": "#3b3bf5", "align": "center", "baseline": "alphabetic"},
      "encoding": {
        "x": {"field": "f", "type": "quantitative", "axis": null},
        "y": {"field": "v", "type": "quantitative", "axis": null},
        "text": {"field": "label"}
      }
    },
    {
      "data": {"values": [{"f": 320, "v": 0.00078, "label": "0"}]},
      "mark": {"type": "text", "font": "DejaVu Sans", "fontSize": 13, "color": "#111111", "align": "center", "baseline": "middle"},
      "encoding": {
        "x": {"field": "f", "type": "quantitative", "axis": null},
        "y": {"field": "v", "type": "quantitative", "axis": null},
        "text": {"field": "label"}
      }
    },
    {
      "data": {"values": [
        {"f1": 1457.7, "v1": 0.5856, "f2": 937.5, "v2": 0.1618},
        {"f1": 1457.7, "v1": 0.5856, "f2": 1404.7, "v2": 0.0834},
        {"f1": 1457.7, "v1": 0.5856, "f2": 2340, "v2": 0.01624},
        {"f1": 2124, "v1": 0.000388, "f2": 2312.5, "v2": 0.00257}
      ]},
      "mark": {"type": "rule", "color": "black", "strokeWidth": 2.5},
      "encoding": {
        "x": {"field": "f1", "type": "quantitative", "axis": null},
        "y": {"field": "v1", "type": "quantitative", "axis": null},
        "x2": {"field": "f2"},
        "y2": {"field": "v2"}
      }
    },
    {
      "data": {"values": [{"f": 937.5, "v": 0.1618}]},
      "mark": {"type": "point", "shape": "M0,-1L-0.75,1L0.75,1Z", "filled": true, "color": "black", "opacity": 1, "size": 289, "angle": 243.7},
      "encoding": {"x": {"field": "f", "type": "quantitative", "axis": null}, "y": {"field": "v", "type": "quantitative", "axis": null}}
    },
    {
      "data": {"values": [{"f": 1404.7, "v": 0.0834}]},
      "mark": {"type": "point", "shape": "M0,-1L-0.75,1L0.75,1Z", "filled": true, "color": "black", "opacity": 1, "size": 289, "angle": 187.7},
      "encoding": {"x": {"field": "f", "type": "quantitative", "axis": null}, "y": {"field": "v", "type": "quantitative", "axis": null}}
    },
    {
      "data": {"values": [{"f": 2340, "v": 0.01624}]},
      "mark": {"type": "point", "shape": "M0,-1L-0.75,1L0.75,1Z", "filled": true, "color": "black", "opacity": 1, "size": 289, "angle": 128.7},
      "encoding": {"x": {"field": "f", "type": "quantitative", "axis": null}, "y": {"field": "v", "type": "quantitative", "axis": null}}
    },
    {
      "data": {"values": [{"f": 2312.5, "v": 0.00257}]},
      "mark": {"type": "point", "shape": "M0,-1L-0.75,1L0.75,1Z", "filled": true, "color": "black", "opacity": 1, "size": 289, "angle": 26.8},
      "encoding": {"x": {"field": "f", "type": "quantitative", "axis": null}, "y": {"field": "v", "type": "quantitative", "axis": null}}
    }
  ],
  "resolve": {"axis": {"x": "independent", "y": "independent"}}
}
